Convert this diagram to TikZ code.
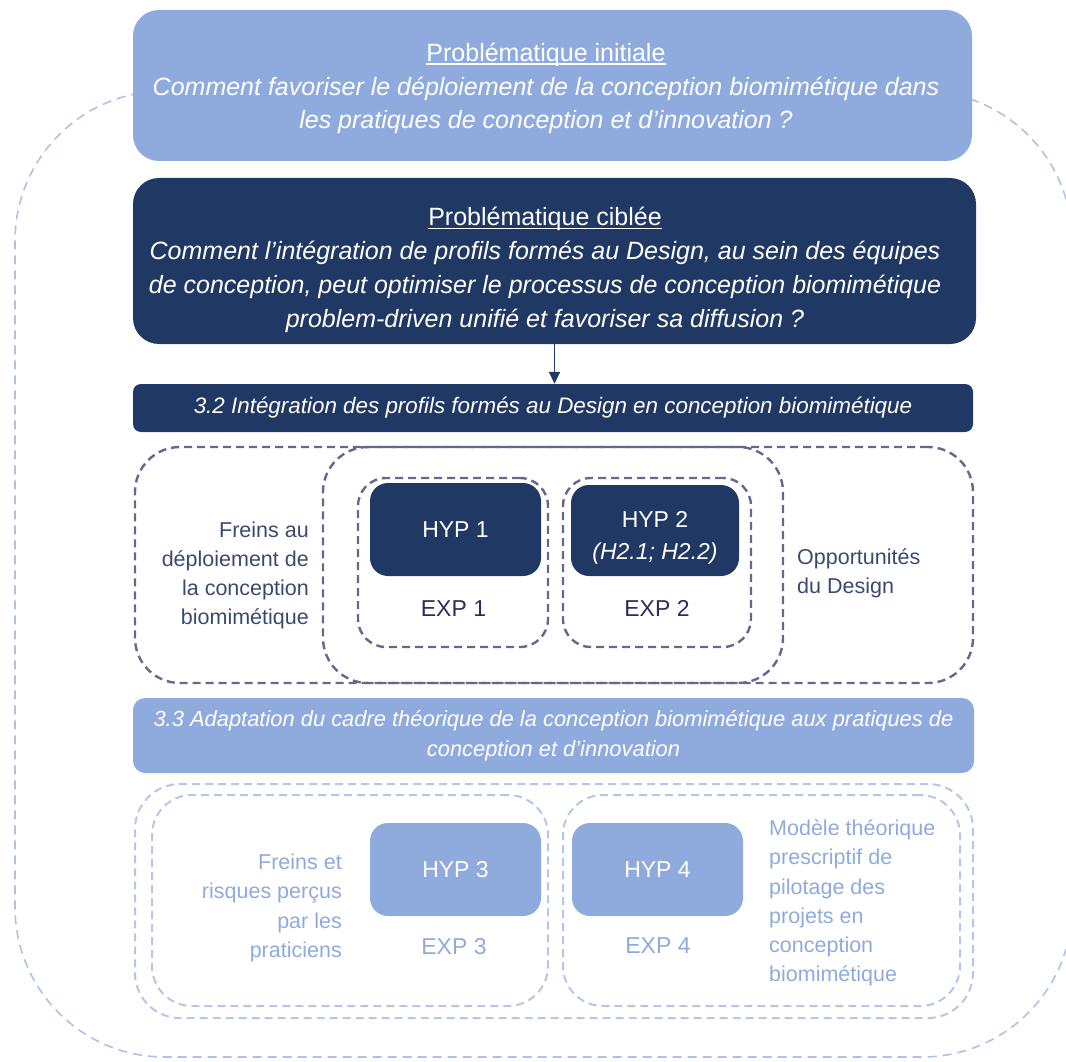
\documentclass[tikz,border=0pt]{standalone}
\usepackage{fontspec}
\setmainfont{Liberation Sans}
\usetikzlibrary{arrows.meta}

\definecolor{paleBlue}{HTML}{8FAADC}
\definecolor{deepNavy}{HTML}{203864}
\definecolor{slateDash}{HTML}{68668F}
\definecolor{mistDash}{HTML}{B4C7E7}
\definecolor{loopDash}{HTML}{AFC2E6}
\definecolor{slateText}{HTML}{3A4A6E}
\definecolor{expText}{HTML}{2F2B5E}

% underlined heading with a visible rule
\newcommand{\heading}[1]{\setbox0\hbox{#1}\rlap{\rule[-3.4pt]{\wd0}{1.3pt}}\box0}

\begin{document}
\begin{tikzpicture}[x=1pt,y=-1pt,
  pale panel/.style={fill=paleBlue, text=white, inner sep=0pt},
  navy panel/.style={fill=deepNavy, text=white, inner sep=0pt},
  mid loop/.style={draw=slateDash, line width=2.4pt, dash pattern=on 8pt off 5pt, inner sep=0pt},
  low loop/.style={draw=mistDash, line width=2pt, dash pattern=on 8pt off 5pt, inner sep=0pt},
  outer loop/.style={draw=loopDash, line width=1.6pt, dash pattern=on 9pt off 6pt},
  question txt/.style={font=\fontsize{25}{33.8}\selectfont, align=center, text=white, inner sep=0pt},
  hyp box/.style={rounded corners=18pt, minimum width=171pt, minimum height=93pt,
                  font=\fontsize{23}{32}\selectfont, align=center},
  exp txt/.style={font=\fontsize{23}{28}\selectfont, inner sep=0pt},
  side txt/.style={font=\fontsize{21.5}{29.2}\selectfont, inner sep=0pt}
]
\useasboundingbox (0,0) rectangle (1066,1062);

% large dashed frame around the whole scheme; its right side runs past the page edge
\draw[outer loop] (1066,199) arc[start angle=-16.3, end angle=-90, radius=150]
  -- (165,91) arc[start angle=-90, end angle=-180, radius=150]
  -- (15,907) arc[start angle=180, end angle=90, radius=150]
  -- (922,1057) arc[start angle=90, end angle=16.3, radius=150];

% initial research question
\node[pale panel, rounded corners=26pt, minimum width=839pt, minimum height=151pt] (initBox) at (552.5,85.5) {};
\node[question txt] (initTxt) at (546,88.5)
  {\heading{Problématique initiale}\\
   \textit{Comment favoriser le déploiement de la conception biomimétique dans}\\
   \textit{les pratiques de conception et d’innovation ?}};

% targeted research question
\node[navy panel, rounded corners=26pt, minimum width=843pt, minimum height=166pt] (focusBox) at (554.5,261) {};
\node[question txt] (focusTxt) at (545,270)
  {\heading{Problématique ciblée}\\
   \textit{Comment l’intégration de profils formés au Design, au sein des équipes}\\
   \textit{de conception, peut optimiser le processus de conception biomimétique}\\
   \textit{problem-driven unifié et favoriser sa diffusion ?}};

% section 3.2
\node[navy panel, rounded corners=8pt, minimum width=840pt, minimum height=48pt,
      font=\fontsize{22.4}{27}\selectfont\itshape] (band32) at (553,408)
  {3.2 Intégration des profils formés au Design en conception biomimétique};

\draw[deepNavy, line width=1.6pt, -{Triangle[length=12pt,width=11pt]}]
  (focusBox.south) -- (focusBox.south |- band32.north);

% overlapping zones of section 3.2
\node[mid loop, rounded corners=45pt, minimum width=648pt, minimum height=236pt] (brakeZone) at (459,565) {};
\node[mid loop, rounded corners=45pt, minimum width=650pt, minimum height=236pt] (designZone) at (648,565) {};
\node[mid loop, rounded corners=28pt, minimum width=190pt, minimum height=169pt] (exp1Zone) at (453,562.5) {};
\node[mid loop, rounded corners=28pt, minimum width=188pt, minimum height=169pt] (exp2Zone) at (657,562.5) {};

\node[navy panel, hyp box] (hyp1) at (455.5,529.5) {HYP 1};
\node[navy panel, hyp box, minimum width=168pt, minimum height=91pt] (hyp2) at (655,530.5) {};
\node[font=\fontsize{23}{32}\selectfont, align=center, text=white, inner sep=0pt] (hyp2Txt) at (655,537.5)
  {HYP 2\\\textit{(H2.1; H2.2)}};

\node[exp txt, text=expText] (exp1) at (453.5,608.5) {EXP 1};
\node[exp txt, text=expText] (exp2) at (657,608.5) {EXP 2};

\node[side txt, text=slateText, anchor=east, align=right] (brakeTxt) at (309,575.5)
  {Freins au\\déploiement de\\la conception\\biomimétique};
\node[side txt, text=slateText, anchor=west, align=left] (designTxt) at (797,573)
  {Opportunités\\du Design};

% section 3.3
\node[pale panel, rounded corners=12pt, minimum width=841pt, minimum height=75pt,
      font=\fontsize{21.9}{30.5}\selectfont, align=center] (band33) at (553.5,735.5)
  {\textit{3.3 Adaptation du cadre théorique de la conception biomimétique aux pratiques de}\\
   \textit{conception et d’innovation}};

\node[low loop, rounded corners=45pt, minimum width=838pt, minimum height=234pt] (practiceZone) at (554,901) {};
\node[low loop, rounded corners=40pt, minimum width=396pt, minimum height=211pt] (exp3Zone) at (350,900.5) {};
\node[low loop, rounded corners=40pt, minimum width=397pt, minimum height=211pt] (exp4Zone) at (761.5,900.5) {};

\node[pale panel, hyp box] (hyp3) at (455.5,869.5) {HYP 3};
\node[pale panel, hyp box] (hyp4) at (657.5,869.5) {HYP 4};

\node[exp txt, text=paleBlue] (exp3) at (454,947) {EXP 3};
\node[exp txt, text=paleBlue] (exp4) at (658,946) {EXP 4};

\node[side txt, text=paleBlue, anchor=east, align=right] (riskTxt) at (342,908)
  {Freins et\\risques perçus\\par les\\praticiens};
\node[side txt, text=paleBlue, anchor=west, align=left] (modelTxt) at (769,903)
  {Modèle théorique\\prescriptif de\\pilotage des\\projets en\\conception\\biomimétique};

\end{tikzpicture}
\end{document}
